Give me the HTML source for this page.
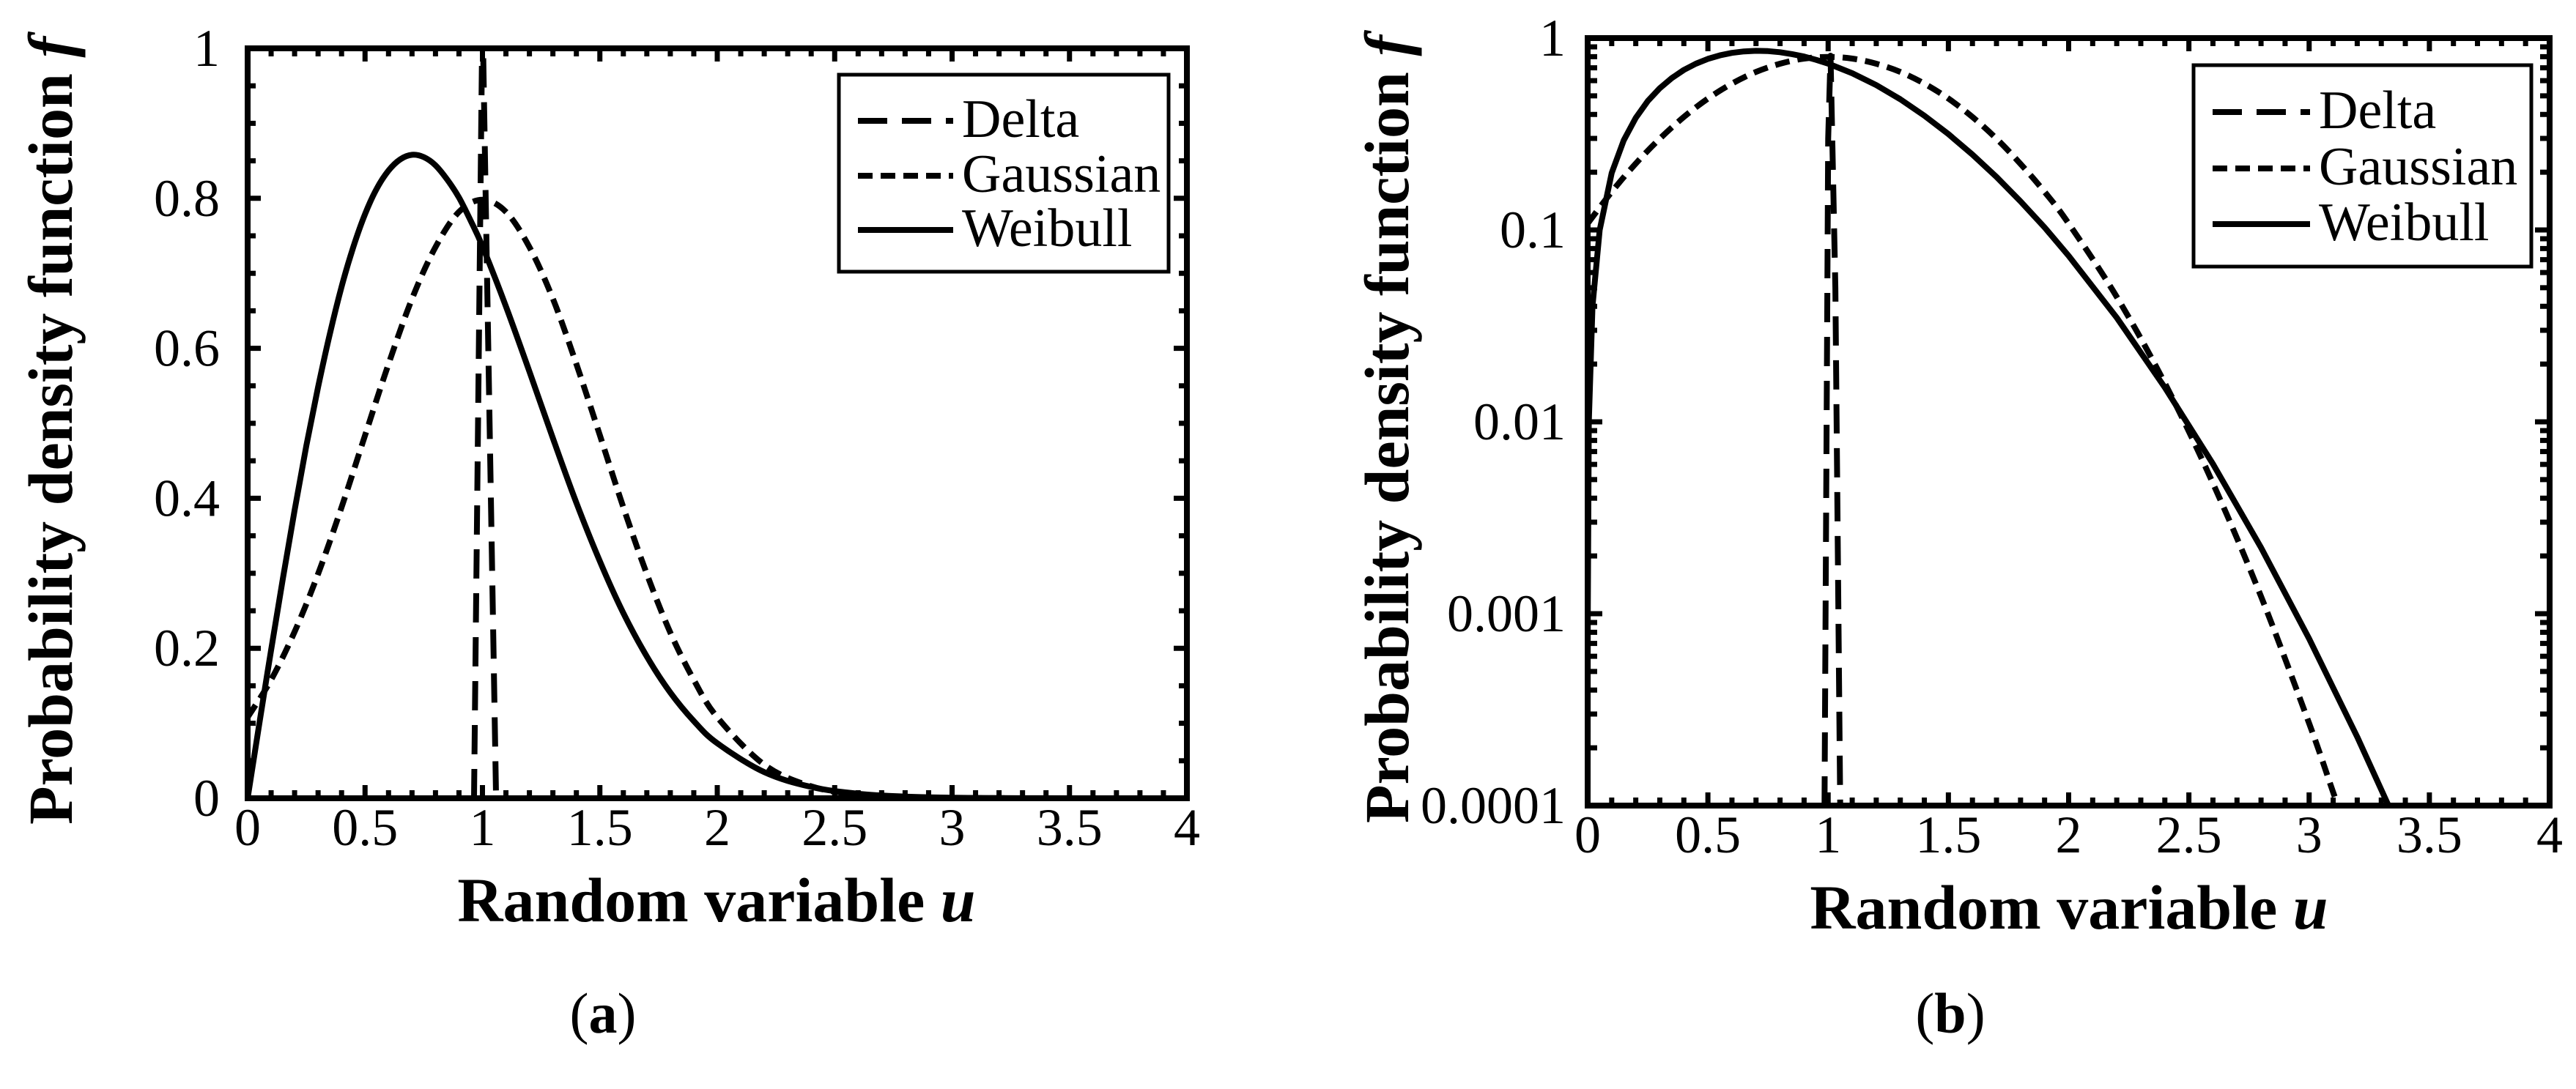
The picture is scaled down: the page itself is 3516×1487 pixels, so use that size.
<!DOCTYPE html>
<html><head><meta charset="utf-8"><style>
html,body{margin:0;padding:0;background:#fff;width:3516px;height:1487px;overflow:hidden;}
svg{display:block;}
text{font-family:"Liberation Serif","Times New Roman",serif;fill:#000;}
</style></head><body>
<svg id="fig" width="3516" height="1487" viewBox="0 0 3516 1487" xmlns="http://www.w3.org/2000/svg" font-family="Liberation Serif, serif">
<defs>
<clipPath id="clipA"><rect x="338" y="66" width="1282" height="1024"/></clipPath>
<clipPath id="clipB"><rect x="2167" y="52" width="1313" height="1048"/></clipPath>
</defs>
<g id="panelA"></g>
<g id="panelB"></g>
</svg>
<script>
// ---- data ----
const weibullU = [0,0.00005,0.0005,0.005,0.02,0.05,0.1,0.15,0.2,0.25,0.3,0.35,0.4,0.45,0.5,0.55,0.6,0.65,0.7,0.75,0.8,0.85,0.9,0.95,1.0,1.1,1.2,1.3,1.4,1.5,1.6,1.7,1.8,1.9,2.0,2.2,2.4,2.6,2.8,3.0,3.2,3.33,3.5,4.0];
const weibullF = [0,0.0001,0.001,0.01,0.04,0.0998,0.198,0.293,0.384,0.470,0.548,0.619,0.682,0.735,0.779,0.813,0.837,0.852,0.858,0.855,0.844,0.825,0.801,0.770,0.736,0.656,0.569,0.480,0.394,0.316,0.247,0.189,0.141,0.103,0.0733,0.0349,0.0151,0.00604,0.00221,0.00074,0.000228,0.0001,0.0000336,0.0000009];
const gaussU = [0,0.1,0.2,0.3,0.4,0.5,0.6,0.7,0.8,0.9,1.0,1.1,1.2,1.3,1.4,1.5,1.6,1.7,1.8,1.9,2.0,2.2,2.4,2.6,2.8,3.0,3.1,3.2,3.5,4.0];
const gaussF = [0.108,0.158,0.222,0.299,0.388,0.484,0.579,0.666,0.735,0.782,0.798,0.782,0.735,0.666,0.579,0.484,0.388,0.299,0.221,0.158,0.108,0.0448,0.0159,0.00479,0.00123,0.000268,0.000117,0.00005,0.000001,0.00000001];
const deltaAU = [0.964,1.0,1.058];
const deltaAF = [0,1.05,0];
const deltaBU = [0.985,1.0,1.01,1.03,1.05];
const deltaBF = [0.0001,0.3,0.81,0.05,0.0001];
const xTicks = [0,0.5,1,1.5,2,2.5,3,3.5,4];
const xTickLabels = ["0","0.5","1","1.5","2","2.5","3","3.5","4"];
const yTicksA = [0,0.2,0.4,0.6,0.8,1];
const yTickLabelsA = ["0","0.2","0.4","0.6","0.8","1"];
const yTicksB = [0.0001,0.001,0.01,0.1,1];
const yTickLabelsB = ["0.0001","0.001","0.01","0.1","1"];
const seriesNames = ["Delta","Gaussian","Weibull"];

const NS="http://www.w3.org/2000/svg";
const FF="Liberation Serif, Times New Roman, serif";
function mk(parent,tag,attrs){const e=document.createElementNS(NS,tag);for(const k in attrs)e.setAttribute(k,attrs[k]);parent.appendChild(e);return e;}
const DASH={Delta:"40 20",Gaussian:"20 11",Weibull:"none"};

function smoothPath(P){
  let d="M"+P[0][0].toFixed(1)+","+P[0][1].toFixed(1);
  for(let i=0;i<P.length-1;i++){
    const p0=P[Math.max(0,i-1)],p1=P[i],p2=P[i+1],p3=P[Math.min(P.length-1,i+2)];
    const c1=[p1[0]+(p2[0]-p0[0])/6,p1[1]+(p2[1]-p0[1])/6];
    const c2=[p2[0]-(p3[0]-p1[0])/6,p2[1]-(p3[1]-p1[1])/6];
    d+=" C"+c1[0].toFixed(1)+","+c1[1].toFixed(1)+" "+c2[0].toFixed(1)+","+c2[1].toFixed(1)+" "+p2[0].toFixed(1)+","+p2[1].toFixed(1);
  }
  return d;
}

function buildPanel(g,cfg){
  const {L,T,R,B,log,clip}=cfg;
  const sx=u=>L+(u-0)/(4-0)*(R-L);
  const sy=log? (v=>B-(Math.log10(Math.max(v,1e-9))+4)/4*(B-T)) : (v=>B-v*(B-T));
  const sg=mk(g,"g",{"clip-path":`url(#${clip})`});
  
  
  function line(us,fs,name,smooth){
    const P=us.map((u,i)=>[sx(u),sy(fs[i])]);
    const d=smooth?smoothPath(P):"M"+P.map(p=>p[0].toFixed(1)+","+p[1].toFixed(1)).join(" L");
    const p=mk(sg,"path",{d:d,fill:"none",stroke:"#000","stroke-width":8,"stroke-linejoin":"round","stroke-dasharray":DASH[name]});
    
    
  }
  line(gaussU,gaussF,"Gaussian",true);
  line(weibullU,weibullF,"Weibull",!log);
  if(log) line(deltaBU,deltaBF,"Delta",false); else line(deltaAU,deltaAF,"Delta",false);
  const tg=mk(g,"g",{stroke:"#000","stroke-width":7});
  
  
  for(let i=0;i<=40;i++){const u=i/10;const len=(i%5===0)?18:11;const x=sx(u);
    mk(tg,"line",{x1:x,y1:B,x2:x,y2:B-len});mk(tg,"line",{x1:x,y1:T,x2:x,y2:T+len});}
  if(!log){for(let i=0;i<=20;i++){const v=i/20;const len=(i%4===0)?18:11;const y=sy(v);
    mk(tg,"line",{x1:L,y1:y,x2:L+len,y2:y});mk(tg,"line",{x1:R,y1:y,x2:R-len,y2:y});}}
  else{for(let d=-4;d<0;d++){for(let m=1;m<=9;m++){const v=m*Math.pow(10,d);const len=m===1?20:13;const y=sy(v);
    mk(tg,"line",{x1:L,y1:y,x2:L+len,y2:y});mk(tg,"line",{x1:R,y1:y,x2:R-len,y2:y});}}}
  const fr=mk(g,"rect",{x:L,y:T,width:R-L,height:B-T,fill:"none",stroke:"#000","stroke-width":8});
  
  
  xTicks.forEach((u,i)=>{const t=mk(g,"text",{x:sx(u),y:B+64,"font-size":72,"font-family":FF,"text-anchor":"middle"});t.textContent=xTickLabels[i];
    
    });
  const yT=log?yTicksB:yTicksA, yL=log?yTickLabelsB:yTickLabelsA;
  yT.forEach((v,i)=>{const t=mk(g,"text",{x:L-(log?30:38),y:sy(v)+24,"font-size":72,"font-family":FF,"text-anchor":"end"});t.textContent=yL[i];
    
    });
  const xt=mk(g,"text",{x:cfg.xtx,y:B+168,"font-size":86,"font-family":FF,"font-weight":"bold","text-anchor":"middle"});
  xt.innerHTML='Random variable <tspan font-style="italic">u</tspan>';
  
  
  const yt=mk(g,"text",{x:0,y:0,"font-size":86,"font-family":FF,"font-weight":"bold","text-anchor":"middle",transform:`translate(${cfg.ytx},${(T+B)/2+10}) rotate(-90)`});
  yt.innerHTML='Probability density function <tspan font-style="italic">f</tspan>';
  
  
  const lg=mk(g,"g",{});
  
  
  const lb=cfg.leg;
  mk(lg,"rect",{x:lb.x,y:lb.y,width:lb.w,height:lb.h,fill:"#fff",stroke:"#000","stroke-width":5});
  seriesNames.forEach((n,i)=>{const by=lb.base[i];
    const ln=mk(lg,"line",{x1:lb.lx1,x2:lb.lx2,y1:by-22,y2:by-22,stroke:"#000","stroke-width":8,"stroke-dasharray":DASH[n]});
    
    
    const t=mk(lg,"text",{x:lb.tx,y:by,"font-size":74,"font-family":FF});t.textContent=n;
    
    });
  const cap=mk(g,"text",{x:cfg.capx,y:1410,"font-size":78,"font-family":FF,"text-anchor":"middle"});
  cap.innerHTML='(<tspan font-weight="bold">'+cfg.cap+'</tspan>)';
  
  
}
buildPanel(document.getElementById("panelA"),{L:338,T:66,R:1620,B:1090,log:false,clip:"clipA",xtx:978,ytx:98,capx:823,cap:"a",
  leg:{x:1145,y:102,w:450,h:269,lx1:1171,lx2:1301,tx:1313,base:[187,262,336]}});
buildPanel(document.getElementById("panelB"),{L:2167,T:52,R:3480,B:1100,log:true,clip:"clipB",xtx:2824,ytx:1922,capx:2662,cap:"b",
  leg:{x:2994,y:89,w:461,h:275,lx1:3020,lx2:3153,tx:3165,base:[175,252,328]}});
</script>
</body></html>
